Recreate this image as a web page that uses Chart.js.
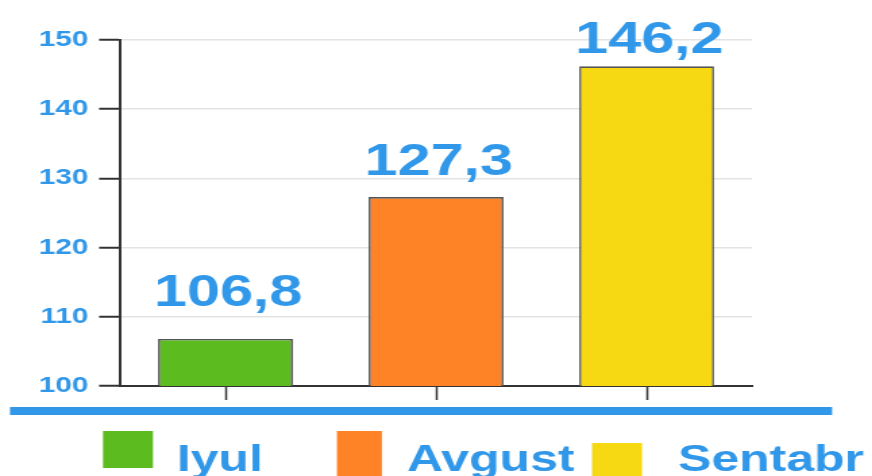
<!DOCTYPE html>
<html>
<head>
<meta charset="utf-8">
<script src="https://cdn.jsdelivr.net/npm/chart.js@4"></script>
<style>
  html, body { margin: 0; padding: 0; background: #fff; overflow: hidden; }
  /* the reference is stretched sideways, so the chart is drawn narrow and widened */
  #wrap { width: 646px; height: 476px; transform: scaleX(1.35); transform-origin: 0 0; }
</style>
</head>
<body>
<div id="wrap"><canvas id="chart" width="646" height="476"></canvas></div>
<script>
// Data
const months = ["Iyul", "Avgust", "Sentabr"];
const values = [106.8, 127.3, 146.2];
const barColors = ["#5bbb1f", "#fe8226", "#f6d913"];
const yTicks = [100, 110, 120, 130, 140, 150];

const BLUE = "#3097e9";
const FONT = "'Liberation Sans', Arial, sans-serif";

// value labels above the bars
const valueLabels = {
    id: "valueLabels",
    afterDatasetsDraw(chart) {
        const ctx = chart.ctx;
        const bottom = chart.scales.y.getPixelForValue(yTicks[0]);
        ctx.save();
        ctx.font = "bold 44px " + FONT;
        ctx.fillStyle = BLUE;
        ctx.textAlign = "center";
        ctx.textBaseline = "alphabetic";
        chart.getDatasetMeta(0).data.forEach((bar, i) => {
            const h = bottom - bar.y;
            const y = bottom - 36 - 0.9275 * h;
            ctx.fillText(values[i].toFixed(1).replace(".", ","), bar.x + 2, y);
        });
        ctx.restore();
    }
};

// blue rule and legend under the axis
const bottomLegend = {
    id: "bottomLegend",
    afterDraw(chart) {
        const ctx = chart.ctx;
        ctx.save();
        ctx.fillStyle = BLUE;
        ctx.fillRect(7.4, 407, 609, 8);

        const boxes = [[76.3, 431, 37, 37], [249.6, 431, 33.3, 50], [438.5, 443, 37, 40]];
        const textX = [131, 301.5, 502.2];
        ctx.font = "bold 37px " + FONT;
        ctx.textBaseline = "alphabetic";
        months.forEach((m, i) => {
            const b = boxes[i];
            ctx.fillStyle = barColors[i];
            ctx.fillRect(b[0], b[1], b[2], b[3]);
            ctx.fillStyle = BLUE;
            ctx.fillText(m, textX[i], 471);
        });
        ctx.restore();
    }
};

new Chart(document.getElementById("chart"), {
    type: "bar",
    data: {
        labels: months,
        datasets: [{
            data: values,
            backgroundColor: barColors,
            borderColor: "#555",
            borderWidth: 1.6,
            barPercentage: 0.64,
            categoryPercentage: 1
        }]
    },
    options: {
        responsive: false,
        animation: false,
        layout: { padding: { top: 40, right: 89, left: 0, bottom: 0 } },
        plugins: { legend: { display: false }, tooltip: { enabled: false } },
        scales: {
            x: {
                afterFit: s => { s.height = 90; },
                border: { color: "#333", width: 2 },
                grid: { offset: false, drawOnChartArea: false, drawTicks: true, tickLength: 14, tickColor: "#333", tickWidth: 1.5 },
                ticks: { display: false }
            },
            y: {
                min: yTicks[0],
                max: yTicks[yTicks.length - 1],
                afterFit: s => { s.width = 89; },
                afterBuildTicks: s => { s.ticks = yTicks.map(v => ({ value: v })); },
                border: { color: "#333", width: 2 },
                grid: { color: "#e3e3e3", lineWidth: 1.5, tickLength: 15.6, tickColor: "#333", tickWidth: 2 },
                ticks: {
                    color: BLUE,
                    padding: 8,
                    font: { family: FONT, size: 22, weight: "bold" }
                }
            }
        }
    },
    plugins: [valueLabels, bottomLegend]
});
</script>
</body>
</html>
